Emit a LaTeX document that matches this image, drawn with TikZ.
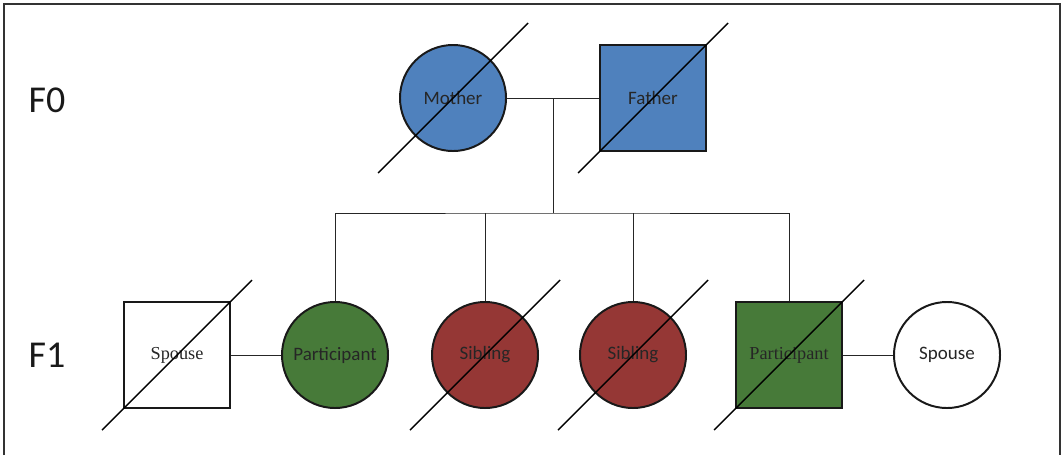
\documentclass[tikz,border=0pt]{standalone}
\usepackage{fontspec}
\setmainfont{Carlito}
\newfontfamily\serifface{Liberation Serif}
\definecolor{pedblue}{RGB}{79,129,189}
\definecolor{pedgreen}{RGB}{71,122,57}
\definecolor{pedred}{RGB}{149,55,53}
\begin{document}
\begin{tikzpicture}[x=0.025cm, y=-0.025cm, thick,
  female/.style={draw=black!90, circle, line width=1.4pt, minimum size=2.65cm, inner sep=0pt,
    text=black!85, font=\fontsize{13.5}{15}\selectfont},
  male/.style={draw=black!90, rectangle, line width=1.4pt, minimum size=2.65cm, inner sep=0pt,
    text=black!85, font=\fontsize{13.5}{15}\selectfont},
  serifname/.style={font=\serifface\fontsize{13}{15}\selectfont},
  gen/.style={font=\fontsize{27}{30}\selectfont, text=black!90},
  link/.style={draw=black!85, line width=0.7pt},
  slash/.style={draw=black, line width=1pt}]
            \useasboundingbox (0,0) rectangle (1064,455);
            % Frame
            \draw[black!80, line width=1.3pt] (4,455) -- (4,4) -- (1060,4) -- (1060,455);
            % Generations
            \node[gen] (f0) at (47,100) {F0};
            \node[gen] (f1) at (47,355) {F1};
            % Nodes
            \node[female, fill=pedblue] (mother) at (453,98) {Mother};
            \node[male, fill=pedblue] (father) at (653,98) {Father};
            \node[male, fill=white, serifname] (spouseL) at (177,355) {Spouse};
            \node[female, fill=pedgreen] (partC) at (335,355) {Participant};
            \node[female, fill=pedred] (sib1) at (485,355) {Sibling};
            \node[female, fill=pedred] (sib2) at (633,355) {Sibling};
            \node[male, fill=pedgreen, serifname] (partS) at (789,355) {Participant};
            \node[female, fill=white] (spouseR) at (947,355) {Spouse};
            \coordinate (mid) at (553,98);
            \coordinate (sibship) at (553,213);
          % Lines
          \draw[link] (mother) -- (father);
          \draw[link] (mid) -- (sibship);
          \draw[link] (partC.north) |- (sibship) -| (partS.north);
          \draw[link] (sib1.north) -- (sib1.north |- sibship);
          \draw[link] (sib2.north) -- (sib2.north |- sibship);
          \draw[link] (spouseL) -- (partC);
          \draw[link] (partS) -- (spouseR);
          % Deceased
          \foreach \n in {mother, father, spouseL, sib1, sib2, partS}
            \draw[slash] ([shift={(-75,75)}]\n.center) -- ([shift={(75,-75)}]\n.center);
        \end{tikzpicture}
\end{document}
